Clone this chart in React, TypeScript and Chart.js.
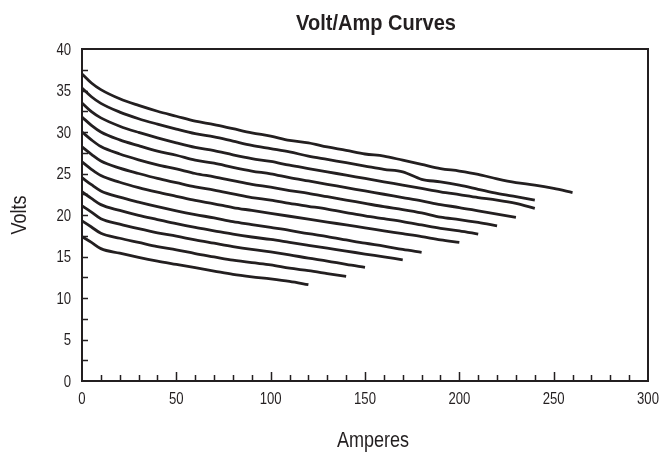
import { useEffect, useRef } from "react";
import { Chart, registerables } from "chart.js";

Chart.register(...registerables);

const TITLE = "Volt/Amp Curves";
const X_TITLE = "Amperes";
const Y_TITLE = "Volts";
const FONT = "'Liberation Sans', Arial, sans-serif";
const INK = "#231f20";
const NARROW = 0.82;

// Amperes sampling grid shared by all curves (each curve uses the first n entries)
const amps = [0, 5, 10, 20, 30, 40, 50, 60, 70, 80, 90, 100, 110, 120, 130, 140, 150, 160, 170, 180, 190, 200, 210, 220, 230, 240, 250, 260];

const curve1 = [37.0, 35.9, 35.1, 34.0, 33.2, 32.5, 31.9, 31.3, 30.9, 30.4, 29.9, 29.5, 29.0, 28.7, 28.2, 27.8, 27.35, 27.1, 26.6, 26.1, 25.6, 25.3, 24.9, 24.35, 23.9, 23.6, 23.2, 22.7];
const curve2 = [35.3, 34.25, 33.45, 32.4, 31.6, 30.95, 30.35, 29.8, 29.4, 28.9, 28.4, 28.0, 27.6, 27.1, 26.7, 26.3, 25.9, 25.5, 25.2, 24.3, 24.0, 23.6, 23.1, 22.6, 22.2, 21.8];
const curve3 = [33.5, 32.45, 31.7, 30.7, 29.95, 29.3, 28.7, 28.15, 27.75, 27.25, 26.8, 26.45, 26.0, 25.6, 25.2, 24.8, 24.4, 24.0, 23.6, 23.2, 22.8, 22.45, 22.1, 21.8, 21.4, 20.8];
const curve4 = [31.8, 30.8, 30.0, 29.05, 28.35, 27.7, 27.2, 26.6, 26.25, 25.75, 25.3, 24.95, 24.5, 24.1, 23.7, 23.3, 22.9, 22.5, 22.1, 21.7, 21.25, 20.9, 20.5, 20.1, 19.7];
const curve5 = [30.0, 29.05, 28.25, 27.35, 26.65, 26.05, 25.55, 25.0, 24.6, 24.15, 23.7, 23.35, 22.95, 22.6, 22.2, 21.8, 21.4, 21.0, 20.65, 20.25, 19.75, 19.45, 19.1, 18.7];
const curve6 = [28.2, 27.3, 26.5, 25.65, 25.0, 24.4, 23.9, 23.4, 23.0, 22.55, 22.1, 21.8, 21.4, 21.05, 20.7, 20.3, 19.9, 19.55, 19.2, 18.8, 18.4, 18.1, 17.7];
const curve7 = [26.4, 25.5, 24.75, 23.95, 23.3, 22.75, 22.25, 21.75, 21.35, 20.9, 20.55, 20.2, 19.85, 19.5, 19.15, 18.8, 18.45, 18.1, 17.75, 17.4, 17.0, 16.7];
const curve8 = [24.5, 23.65, 22.9, 22.15, 21.55, 21.0, 20.5, 20.05, 19.65, 19.2, 18.85, 18.5, 18.15, 17.75, 17.4, 17.0, 16.6, 16.25, 15.85, 15.5];
const curve9 = [22.8, 22.0, 21.25, 20.55, 19.95, 19.45, 18.95, 18.5, 18.1, 17.7, 17.35, 17.05, 16.7, 16.35, 16.0, 15.65, 15.3, 14.95, 14.6];
const curve10 = [21.1, 20.35, 19.55, 18.9, 18.35, 17.85, 17.45, 17.0, 16.6, 16.2, 15.85, 15.55, 15.2, 14.8, 14.45, 14.05, 13.7];
const curve11 = [19.3, 18.55, 17.8, 17.2, 16.7, 16.2, 15.8, 15.35, 14.95, 14.55, 14.25, 14.0, 13.6, 13.3, 12.95, 12.6];
const curve12 = [17.4, 16.7, 15.95, 15.4, 14.9, 14.45, 14.05, 13.65, 13.25, 12.85, 12.55, 12.3, 12.0, 11.6];

const curves = [curve1, curve2, curve3, curve4, curve5, curve6, curve7, curve8, curve9, curve10, curve11, curve12];

const X_MIN = 0;
const X_MAX = 300;
const X_STEP = 50;
const X_MINOR = 10;
const Y_MIN = 0;
const Y_MAX = 40;
const Y_STEP = 5;
const Y_MINOR = 2.5;

function narrowText(ctx: any, text: string, x: number, y: number, align: CanvasTextAlign, sx: number, rot = 0) {
  ctx.save();
  ctx.translate(x, y);
  if (rot) ctx.rotate(rot);
  ctx.scale(sx, 1);
  ctx.textAlign = align;
  ctx.fillText(text, 0, 0);
  ctx.restore();
}

const framePlugin = {
  id: "frameAndTicks",
  beforeDatasetsDraw(chart: any) {
    const { ctx, chartArea, scales } = chart;
    const { left, right, top, bottom } = chartArea;
    ctx.save();
    ctx.strokeStyle = INK;
    ctx.lineWidth = 1.5;
    ctx.beginPath();
    for (let v = X_MIN + X_MINOR; v < X_MAX; v += X_MINOR) {
      const px = Math.round(scales.x.getPixelForValue(v)) + 0.5;
      const len = v % X_STEP === 0 ? 9 : 6;
      ctx.moveTo(px, bottom);
      ctx.lineTo(px, bottom - len);
    }
    for (let v = Y_MIN + Y_MINOR; v < Y_MAX; v += Y_MINOR) {
      const py = Math.round(scales.y.getPixelForValue(v)) + 0.5;
      ctx.moveTo(left, py);
      ctx.lineTo(left + 6, py);
    }
    ctx.stroke();
    ctx.lineWidth = 2;
    ctx.strokeRect(left, top, right - left, bottom - top);
    ctx.restore();
  },
  afterDraw(chart: any) {
    const { ctx, chartArea, scales } = chart;
    ctx.save();
    ctx.fillStyle = INK;
    // tick labels
    ctx.font = `16px ${FONT}`;
    ctx.textBaseline = "middle";
    for (const t of scales.x.ticks) {
      const px = scales.x.getPixelForValue(t.value);
      narrowText(ctx, String(t.value), px, 400, "center", NARROW);
    }
    for (const t of scales.y.ticks) {
      const py = scales.y.getPixelForValue(t.value);
      narrowText(ctx, String(t.value), 71, py + 1.5, "right", NARROW);
    }
    // axis titles
    ctx.font = `22px ${FONT}`;
    narrowText(ctx, X_TITLE, (chartArea.left + chartArea.right) / 2 + 8, 441, "center", NARROW);
    narrowText(ctx, Y_TITLE, 20, (chartArea.top + chartArea.bottom) / 2, "center", NARROW, -Math.PI / 2);
    // chart title
    ctx.font = `bold 22px ${FONT}`;
    narrowText(ctx, TITLE, (chartArea.left + chartArea.right) / 2 + 11, 24, "center", 0.91);
    ctx.restore();
  },
};

export default function App() {
  const ref = useRef<HTMLCanvasElement>(null);
  useEffect(() => {
    document.body.style.margin = "0";
    const datasets = curves.map((vals, i) => ({
      label: `Curve ${i + 1}`,
      data: vals.map((v, j) => ({ x: amps[j], y: v })),
      borderColor: INK,
      backgroundColor: INK,
      borderWidth: 2.8,
      pointRadius: 0,
      tension: 0.4,
      cubicInterpolationMode: "monotone" as const,
      fill: false,
    }));
    const chart = new Chart(ref.current!, {
      type: "line",
      data: { datasets },
      options: {
        responsive: false,
        animation: false,
        layout: { padding: { left: 0, right: 21, top: 49, bottom: 0 } },
        plugins: {
          legend: { display: false },
          tooltip: { enabled: false },
          title: { display: false },
        },
        scales: {
          x: {
            type: "linear",
            min: X_MIN,
            max: X_MAX,
            ticks: { stepSize: X_STEP, display: false },
            grid: { display: false, drawTicks: false },
            border: { display: false },
            title: { display: false },
            afterFit: (s: any) => { s.height = 75; },
          },
          y: {
            type: "linear",
            min: Y_MIN,
            max: Y_MAX,
            ticks: { stepSize: Y_STEP, display: false },
            grid: { display: false, drawTicks: false },
            border: { display: false },
            title: { display: false },
            afterFit: (s: any) => { s.width = 82; },
          },
        },
      },
      plugins: [framePlugin],
    });
    return () => chart.destroy();
  }, []);
  return (
    <div style={{ width: 669, height: 456 }}>
      <canvas ref={ref} width={669} height={456} />
    </div>
  );
}
